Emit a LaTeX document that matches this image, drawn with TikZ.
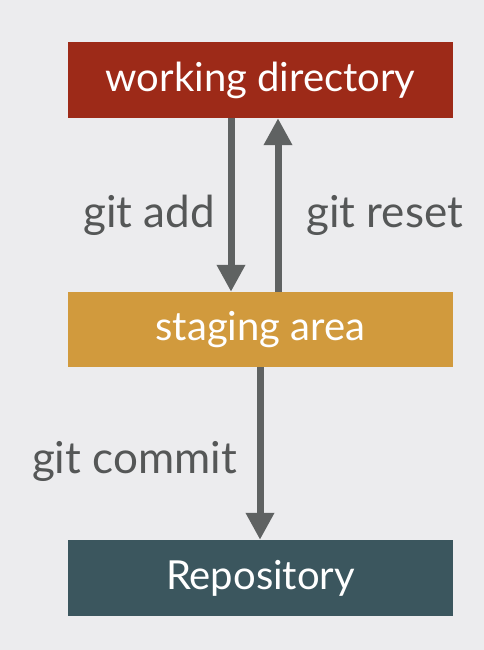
\documentclass[tikz,border=0pt]{standalone}
\usepackage{fontspec}
\setmainfont{Lato}
\usetikzlibrary{arrows.meta}
\definecolor{bgc}{HTML}{ECECEE}
\definecolor{wdred}{HTML}{9D2A18}
\definecolor{sgorange}{HTML}{D19A3D}
\definecolor{repoteal}{HTML}{3B565E}
\definecolor{arrowgray}{HTML}{5F6262}
\definecolor{labelgray}{HTML}{555757}
\tikzset{
  box/.style={minimum width=385pt, minimum height=76pt, inner sep=0pt, text=white, font=\fontsize{40}{44}\selectfont},
  flow/.style={draw=arrowgray, line width=7pt, -{Triangle[width=27pt,length=27pt]}},
  cmd/.style={text=labelgray, font=\fontsize{44}{48}\selectfont, inner sep=0pt}
}
\begin{document}
\begin{tikzpicture}[x=1pt,y=-1pt]
\fill[bgc] (0,0) rectangle (484,650);
\useasboundingbox (0,0) rectangle (484,650);
\node[box, fill=wdred] (wd) at (260.5,80) {working directory};
\node[box, fill=sgorange, minimum height=75pt] (sa) at (260.5,329.5) {staging area};
\node[box, fill=repoteal] (repo) at (260.5,578) {Repository};
\draw[flow] (wd.south -| 231,0) -- (sa.north -| 231,0);
\draw[flow] (sa.north -| 278,0) -- (wd.south -| 278,0);
\draw[flow] (sa.south -| 260,0) -- (repo.north -| 260,0);
\node[cmd, anchor=base east] (ladd) at (215,227) {git add};
\node[cmd, anchor=base west] (lreset) at (306,227) {git reset};
\node[cmd, anchor=base east] (lcommit) at (237,473) {git commit};
\end{tikzpicture}
\end{document}
